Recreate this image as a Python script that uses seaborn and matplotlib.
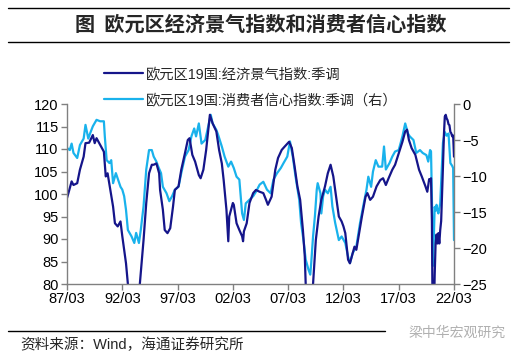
import numpy as np
import pandas as pd
import matplotlib
matplotlib.use("Agg")
import matplotlib.pyplot as plt
from matplotlib.lines import Line2D
import seaborn as sns

# --- DATA ---
esi_dates = [
    "1987-03", "1987-04", "1987-08", "1987-10", "1988-02", "1988-05", "1988-09", "1988-11",
    "1989-03", "1989-07", "1989-09", "1989-11", "1990-03", "1990-07", "1990-09", "1990-11",
    "1991-02", "1991-05", "1991-07", "1991-10", "1992-01", "1992-03", "1992-07", "1992-09",
    "1993-01", "1993-05", "1993-09", "1993-10", "1994-02", "1994-05", "1994-08", "1994-11",
    "1995-01", "1995-04", "1995-07", "1995-08", "1995-11", "1996-01", "1996-04", "1996-07",
    "1996-10", "1996-12", "1997-04", "1997-07", "1997-11", "1998-02", "1998-04", "1998-07",
    "1998-10", "1999-02", "1999-04", "1999-07", "1999-10", "2000-02", "2000-05", "2000-09",
    "2000-12", "2001-03", "2001-05", "2001-08", "2001-10", "2001-11", "2002-03", "2002-04",
    "2002-07", "2002-10", "2003-01", "2003-02", "2003-03", "2003-06", "2003-09", "2004-01",
    "2004-04", "2004-08", "2004-12", "2005-03", "2005-05", "2005-09", "2006-01", "2006-04",
    "2006-08", "2006-11", "2007-04", "2007-07", "2007-10", "2008-01", "2008-04", "2008-07",
    "2008-09", "2008-10", "2009-01", "2009-03", "2009-06", "2009-09", "2009-12", "2010-03",
    "2010-07", "2010-10", "2011-01", "2011-04", "2011-07", "2011-10", "2012-01", "2012-03",
    "2012-05", "2012-08", "2012-10", "2013-01", "2013-03", "2013-05", "2013-08", "2013-11",
    "2014-03", "2014-05", "2014-08", "2014-11", "2015-03", "2015-07", "2015-10", "2016-01",
    "2016-04", "2016-08", "2016-11", "2017-03", "2017-07", "2017-10", "2017-12", "2018-02",
    "2018-05", "2018-09", "2019-01", "2019-04", "2019-08", "2019-10", "2019-12", "2020-01",
    "2020-02", "2020-03", "2020-04", "2020-05", "2020-06", "2020-07", "2020-08", "2020-09",
    "2020-10", "2020-11", "2020-12", "2021-01", "2021-02", "2021-03", "2021-04", "2021-05",
    "2021-06", "2021-07", "2021-08", "2021-09", "2021-10", "2021-11", "2021-12", "2022-01",
    "2022-02", "2022-03",
]
esi_values = [
    99.1, 99.8, 102.8, 102.0, 102.4, 105.4, 108.3, 111.3,
    111.4, 113.1, 111.3, 112.4, 110.9, 109.4, 103.9, 104.6,
    100.9, 97.2, 93.5, 92.8, 93.9, 90.6, 84.6, 80.0,
    77.0, 76.5, 78.5, 80.0, 89.8, 98.0, 104.6, 106.5,
    106.5, 106.8, 104.6, 100.9, 96.5, 92.0, 91.3, 92.4,
    97.2, 100.9, 101.7, 105.4, 109.1, 112.0, 112.4, 108.7,
    107.2, 104.2, 103.5, 105.4, 109.8, 117.6, 115.7, 113.9,
    109.8, 106.8, 103.1, 96.5, 89.5, 95.0, 98.0, 97.6,
    93.5, 92.0, 90.6, 89.5, 91.7, 93.5, 98.0, 100.2,
    100.9, 100.5, 100.2, 98.7, 97.6, 99.4, 105.4, 108.0,
    109.8, 110.5, 111.6, 110.2, 106.1, 101.7, 98.7, 92.0,
    86.1, 80.0, 70.0, 69.0, 80.0, 89.8, 95.0, 98.7,
    101.7, 104.6, 106.5, 103.9, 99.4, 95.0, 93.9, 92.8,
    91.3, 85.4, 84.6, 86.9, 88.3, 87.6, 91.3, 95.0,
    99.4, 100.2, 98.7, 99.4, 101.7, 103.1, 103.5, 102.0,
    103.5, 105.4, 106.5, 109.0, 111.6, 113.9, 114.3, 112.0,
    110.2, 108.7, 105.4, 103.9, 101.7, 100.5, 103.3, 103.0,
    103.5, 94.0, 66.0, 72.0, 82.0, 89.0, 91.0, 89.0,
    91.3, 89.0, 92.0, 94.0, 100.0, 106.0, 113.0, 117.2,
    117.6, 116.8, 116.4, 115.5, 115.3, 113.8, 113.5, 112.8,
    113.0, 108.3,
]

cci_dates = [
    "1987-03", "1987-06", "1987-08", "1987-10", "1988-02", "1988-05", "1988-09", "1988-11",
    "1989-02", "1989-04", "1989-07", "1989-11", "1990-03", "1990-07", "1990-08", "1990-10",
    "1991-01", "1991-03", "1991-05", "1991-08", "1992-01", "1992-03", "1992-05", "1992-07",
    "1992-09", "1993-01", "1993-04", "1993-06", "1993-09", "1993-11", "1994-02", "1994-05",
    "1994-08", "1994-11", "1995-01", "1995-04", "1995-06", "1995-09", "1995-11", "1996-03",
    "1996-06", "1996-09", "1996-12", "1997-04", "1997-07", "1997-11", "1998-03", "1998-06",
    "1998-09", "1998-11", "1999-02", "1999-05", "1999-09", "2000-01", "2000-03", "2000-05",
    "2000-09", "2000-11", "2001-03", "2001-06", "2001-10", "2002-01", "2002-04", "2002-07",
    "2002-10", "2003-01", "2003-03", "2003-05", "2003-09", "2004-01", "2004-04", "2004-08",
    "2004-12", "2005-04", "2005-08", "2005-11", "2006-03", "2006-07", "2006-10", "2007-02",
    "2007-05", "2007-08", "2007-11", "2008-03", "2008-05", "2008-08", "2008-10", "2009-01",
    "2009-03", "2009-04", "2009-06", "2009-08", "2009-10", "2009-11", "2010-02", "2010-03",
    "2010-05", "2010-07", "2010-10", "2011-01", "2011-03", "2011-06", "2011-10", "2012-01",
    "2012-05", "2012-08", "2012-10", "2013-01", "2013-05", "2013-09", "2014-01", "2014-04",
    "2014-06", "2014-09", "2014-11", "2015-02", "2015-05", "2015-09", "2015-11", "2016-01",
    "2016-05", "2016-08", "2016-11", "2017-03", "2017-07", "2017-10", "2018-01", "2018-03",
    "2018-07", "2018-10", "2019-02", "2019-05", "2019-09", "2019-11", "2020-01", "2020-02",
    "2020-03", "2020-04", "2020-05", "2020-06", "2020-07", "2020-08", "2020-09", "2020-10",
    "2020-11", "2020-12", "2021-01", "2021-02", "2021-03", "2021-05", "2021-07", "2021-09",
    "2021-11", "2022-01", "2022-02", "2022-03",
]
cci_values = [
    -6.1, -6.4, -5.5, -6.8, -7.5, -5.7, -4.8, -2.9,
    -4.8, -4.1, -3.1, -2.2, -2.4, -2.4, -4.5, -7.8,
    -8.2, -7.8, -11.0, -9.6, -11.5, -11.9, -12.8, -14.7,
    -17.5, -18.4, -19.3, -17.9, -19.3, -17.5, -14.2, -9.1,
    -6.4, -6.4, -7.3, -8.0, -8.7, -9.6, -11.5, -12.4,
    -13.5, -12.8, -11.9, -11.5, -9.6, -7.3, -6.4, -4.5,
    -3.4, -4.5, -2.7, -5.5, -5.0, -2.7, -1.5, -2.7,
    -3.6, -4.3, -5.9, -7.3, -8.7, -8.0, -8.9, -10.1,
    -10.5, -15.2, -16.1, -13.8, -13.3, -12.8, -12.2, -11.2,
    -10.8, -11.9, -12.4, -10.5, -9.6, -8.9, -8.2, -7.3,
    -5.2, -7.3, -10.1, -13.3, -16.5, -19.3, -21.6, -23.0,
    -23.7, -22.1, -18.4, -15.6, -11.9, -11.0, -12.4, -15.2,
    -12.8, -11.9, -12.4, -11.5, -14.2, -16.5, -18.9, -18.4,
    -19.3, -21.2, -22.1, -20.7, -19.8, -16.5, -13.8, -11.9,
    -10.1, -11.5, -9.4, -7.8, -8.7, -8.7, -5.9, -9.1,
    -8.2, -7.3, -6.6, -6.4, -4.5, -2.7, -4.1, -4.5,
    -5.0, -6.8, -6.4, -6.8, -7.1, -8.0, -6.4, -6.6,
    -13.0, -22.5, -18.9, -14.3, -14.8, -14.0, -14.8, -15.2,
    -14.5, -13.8, -11.0, -8.0, -5.4, -3.9, -4.4, -4.1,
    -8.2, -8.6, -8.9, -18.9,
]

x_ticks = ["1987-03", "1992-03", "1997-03", "2002-03", "2007-03", "2012-03", "2017-03", "2022-03"]
x_tick_labels = ["87/03", "92/03", "97/03", "02/03", "07/03", "12/03", "17/03", "22/03"]
left_ticks = [80, 85, 90, 95, 100, 105, 110, 115, 120]
right_ticks = [-25, -20, -15, -10, -5, 0]

title = "图  欧元区经济景气指数和消费者信心指数"
esi_label = "欧元区19国:经济景气指数:季调"
cci_label = "欧元区19国:消费者信心指数:季调（右）"
source = "资料来源：Wind，海通证券研究所"
watermark = "梁中华宏观研究"

# --- STYLE ---
sns.set_style("ticks")
plt.rcParams["font.family"] = ["Liberation Sans", "Noto Sans CJK SC", "DejaVu Sans"]

DARK = "#15158a"
LIGHT = "#19b2ec"
GRAY = "#808080"

esi = pd.DataFrame({"date": pd.to_datetime(esi_dates), "value": esi_values})
cci = pd.DataFrame({"date": pd.to_datetime(cci_dates), "value": cci_values})

fig = plt.figure(figsize=(5.27, 3.6), dpi=100)
ax = fig.add_axes([67 / 527, 1 - 284 / 360, (454 - 67) / 527, (284 - 104) / 360])
ax2 = ax.twinx()

sns.lineplot(data=esi, x="date", y="value", ax=ax, color=DARK, linewidth=1.6)
sns.lineplot(data=cci, x="date", y="value", ax=ax2, color=LIGHT, linewidth=1.6)
# dark line drawn on top of the light one
ax.set_zorder(ax2.get_zorder() + 1)
ax.patch.set_visible(False)

ax.set_xlim(pd.Timestamp("1987-03-01"), pd.Timestamp("2022-03-01"))
ax.set_ylim(80, 120)
ax2.set_ylim(-25, 0)
ax.set_xticks(pd.to_datetime(x_ticks))
ax.set_xticklabels(x_tick_labels)
ax.set_yticks(left_ticks)
ax2.set_yticks(right_ticks)
ax.set_xlabel("")
ax.set_ylabel("")
ax2.set_xlabel("")
ax2.set_ylabel("")

for a in (ax, ax2):
    a.spines["top"].set_visible(False)
    for s in ("left", "right", "bottom"):
        a.spines[s].set_color(GRAY)
        a.spines[s].set_linewidth(1.0)
    a.tick_params(direction="out", length=4, width=1, color=GRAY,
                  labelsize=10.5, labelcolor="black", pad=2)
ax.spines["right"].set_visible(False)
ax2.spines["left"].set_visible(False)
ax2.spines["bottom"].set_visible(False)
ax.grid(False)
ax2.grid(False)

# legend
handles = [Line2D([], [], color=DARK, linewidth=1.6), Line2D([], [], color=LIGHT, linewidth=1.6)]
fig.legend(handles, [esi_label, cci_label], loc="upper left",
           bbox_to_anchor=(104 / 527, 1 - 67 / 360), frameon=False, fontsize=10.3,
           handlelength=2.7, handletextpad=0.2, labelspacing=0.85, borderpad=0,
           borderaxespad=0)

# title block and footer
fig.add_artist(Line2D([0.015, 0.965], [1 - 8 / 360, 1 - 8 / 360], color="black", linewidth=1.0))
fig.add_artist(Line2D([0.015, 0.965], [1 - 42 / 360, 1 - 42 / 360], color="black", linewidth=1.0))
fig.text(261 / 527, 1 - 24 / 360, title, ha="center", va="center", fontsize=14.5,
         fontweight="bold", family=["Noto Sans CJK SC"])
fig.add_artist(Line2D([8 / 527, 385 / 527], [1 - 331 / 360, 1 - 331 / 360], color="black", linewidth=1.0))
fig.text(20 / 527, 1 - 345 / 360, source, ha="left", va="center", fontsize=10.5)
fig.text(506 / 527, 1 - 333 / 360, watermark, ha="right", va="center", fontsize=10,
         color="#b0b0b0", family=["Noto Sans CJK SC"])

fig.savefig("out.png", dpi=100)
